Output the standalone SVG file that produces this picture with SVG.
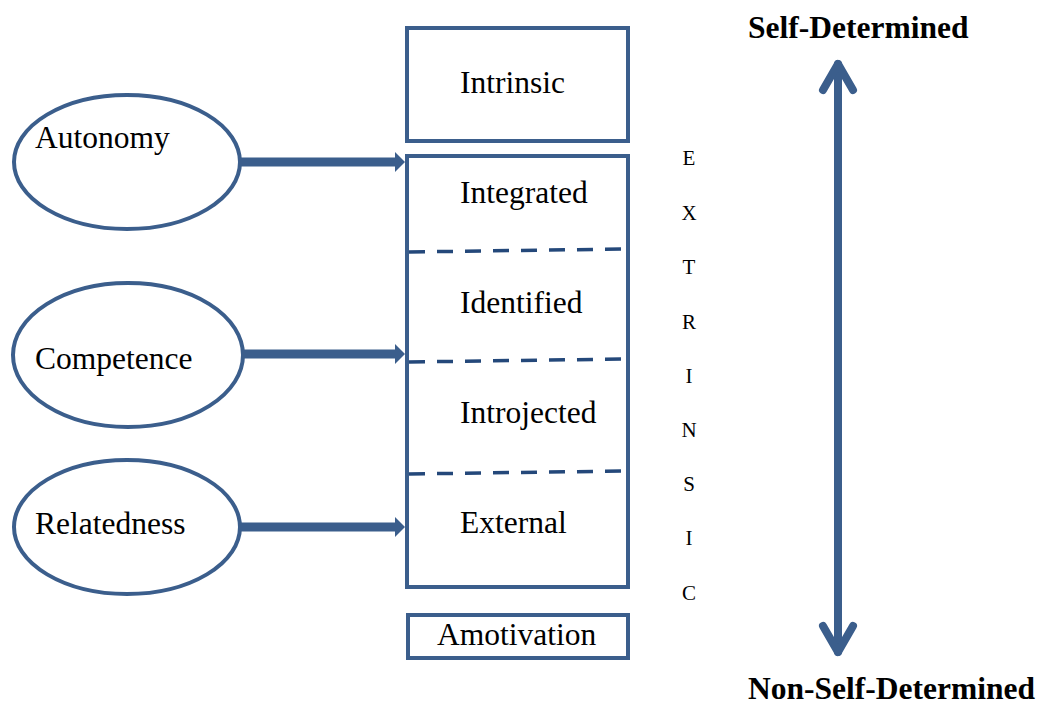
<svg xmlns="http://www.w3.org/2000/svg" width="1044" height="704" viewBox="0 0 1044 704">
  <style>
    .shape { fill: #ffffff; stroke: #3b5e8c; stroke-width: 4; }
    .lbl { font-family: "Liberation Serif", "Times New Roman", serif; font-size: 31.5px; fill: #000; }
    .ltr { font-family: "Liberation Serif", "Times New Roman", serif; font-size: 21px; fill: #000; text-anchor: middle; }
    .head { font-family: "Liberation Serif", "Times New Roman", serif; font-size: 31.5px; font-weight: bold; fill: #000; }
    .dash { stroke: #24487a; stroke-width: 3.5; stroke-dasharray: 16 12; fill: none; }
    .link { stroke: #3b5e8c; stroke-width: 9; fill: none; }
  </style>
  <defs>
    <marker id="tip" viewBox="0 0 10 20" refX="2" refY="10" markerWidth="10" markerHeight="20" orient="auto" markerUnits="userSpaceOnUse">
      <path d="M0,0 L10,10 L0,20 Z" fill="#3b5e8c"/>
    </marker>
  </defs>

  <rect width="1044" height="704" fill="#ffffff"/>

  <!-- need nodes -->
  <g id="autonomy">
    <ellipse class="shape" cx="127" cy="162" rx="113" ry="67"/>
    <text class="lbl" x="35" y="148">Autonomy</text>
  </g>
  <g id="competence">
    <ellipse class="shape" cx="128" cy="355" rx="115" ry="72"/>
    <text class="lbl" x="35" y="369">Competence</text>
  </g>
  <g id="relatedness">
    <ellipse class="shape" cx="127" cy="527" rx="113" ry="67"/>
    <text class="lbl" x="35" y="534">Relatedness</text>
  </g>

  <!-- motivation types -->
  <g id="intrinsic">
    <rect class="shape" x="407" y="28" width="221" height="113"/>
    <text class="lbl" x="460" y="93">Intrinsic</text>
  </g>
  <g id="extrinsic">
    <rect class="shape" x="407" y="156" width="221" height="431"/>
    <path class="dash" d="M409,252 L626,249"/>
    <path class="dash" d="M409,362 L626,359"/>
    <path class="dash" d="M409,474 L626,471"/>
    <text class="lbl" x="460" y="203">Integrated</text>
    <text class="lbl" x="460" y="313">Identified</text>
    <text class="lbl" x="460" y="423">Introjected</text>
    <text class="lbl" x="460" y="533">External</text>
  </g>
  <g id="amotivation">
    <rect class="shape" x="408" y="615" width="220" height="43"/>
    <text class="lbl" x="437" y="645">Amotivation</text>
  </g>

  <!-- vertical EXTRINSIC label -->
  <g id="extrinsic-label">
    <text class="ltr" x="689" y="165">E</text>
    <text class="ltr" x="689" y="220">X</text>
    <text class="ltr" x="689" y="274">T</text>
    <text class="ltr" x="689" y="329">R</text>
    <text class="ltr" x="689" y="383">I</text>
    <text class="ltr" x="689" y="437">N</text>
    <text class="ltr" x="689" y="491">S</text>
    <text class="ltr" x="689" y="545">I</text>
    <text class="ltr" x="689" y="600">C</text>
  </g>

  <!-- self-determination scale -->
  <g id="scale">
    <text class="head" x="748" y="38">Self-Determined</text>
    <text class="head" x="748" y="699">Non-Self-Determined</text>
  </g>

  <!-- connectors -->
  <g id="connectors">
    <line class="link" x1="240" y1="162" x2="397" y2="162" marker-end="url(#tip)"/>
    <line class="link" x1="243" y1="354" x2="397" y2="354" marker-end="url(#tip)"/>
    <line class="link" x1="240" y1="527" x2="397" y2="527" marker-end="url(#tip)"/>
    <g stroke="#3b5e8c" stroke-width="8" stroke-linecap="round" stroke-linejoin="round" fill="none">
      <line x1="838" y1="64" x2="838" y2="652"/>
      <polyline points="823,90 838,64 853,90"/>
      <polyline points="823,626 838,652 853,626"/>
    </g>
  </g>
</svg>
